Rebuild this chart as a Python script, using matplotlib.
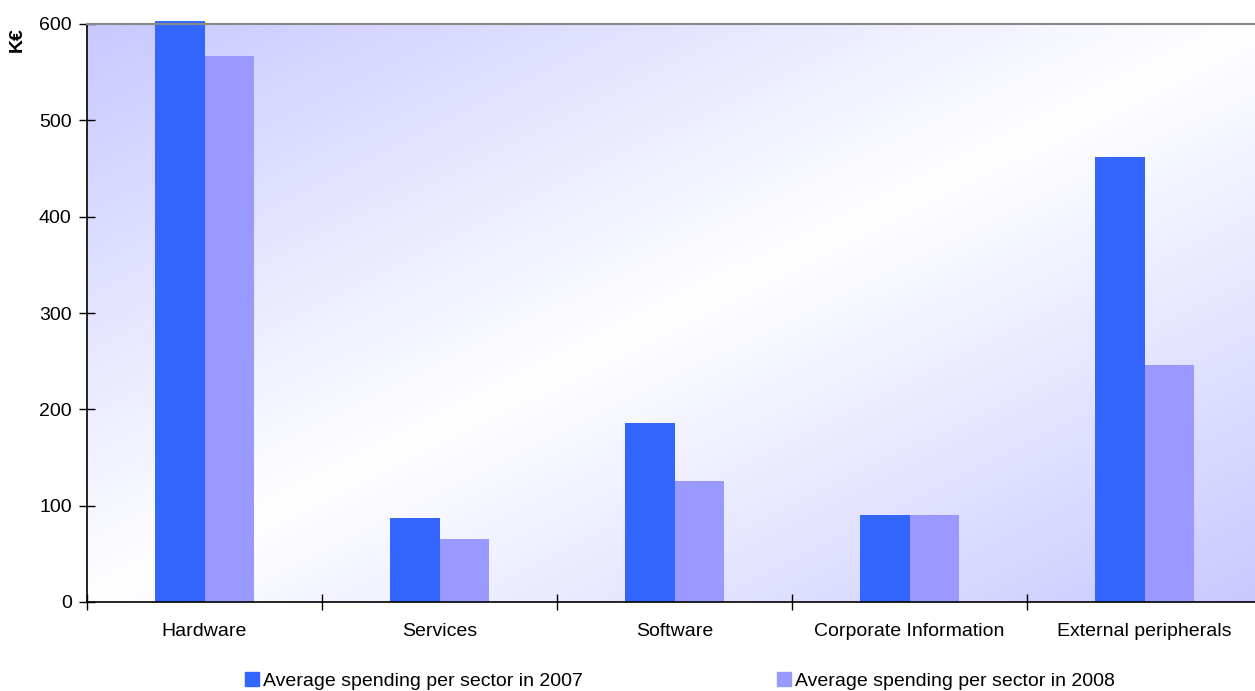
import numpy as np
import matplotlib
matplotlib.use("Agg")
import matplotlib.pyplot as plt
from matplotlib.patches import Patch

categories = ["Hardware", "Services", "Software", "Corporate Information", "External peripherals"]
spend_2007 = [603, 87, 186, 90, 462]
spend_2008 = [567, 65, 126, 90, 246]
series_labels = ["Average spending per sector in 2007", "Average spending per sector in 2008"]
yticks = [0, 100, 200, 300, 400, 500, 600]

c2007 = "#3366FF"
c2008 = "#9999FF"

plt.rcParams["font.family"] = ["Liberation Sans", "DejaVu Sans"]
fs = 14

W, H = 1255, 691
fig = plt.figure(figsize=(W / 100, H / 100), dpi=100)
# plot area runs slightly past the right edge of the canvas
ax = fig.add_axes([87 / W, 1 - 602 / H, 1175 / W, (602 - 24) / H])

# diagonal lavender-white-lavender gradient background
n = 400
u = np.linspace(0, 1, n)
U, V = np.meshgrid(u, u)  # V = 0 at top
t = (U + V) / 2
w = np.abs(t - 0.5) * 2
lav = np.array([200, 200, 255]) / 255
white = np.array([1.0, 1.0, 1.0])
img = white[None, None, :] * (1 - w[..., None]) + lav[None, None, :] * w[..., None]
ax.imshow(img, extent=[0, 1, 0, 1], transform=ax.transAxes, aspect="auto", zorder=0)

x = np.arange(len(categories))
bw = 0.21
ax.bar(x - bw / 2, spend_2007, width=bw, color=c2007, zorder=2, clip_on=False)
ax.bar(x + bw / 2, spend_2008, width=bw, color=c2008, zorder=2, clip_on=False)

ax.set_xlim(-0.5, len(categories) - 0.5)
ax.set_ylim(0, 600)

ax.set_yticks(yticks)
ax.set_yticklabels([str(v) for v in yticks], fontsize=fs)
ax.tick_params(axis="y", direction="inout", length=12, width=1, pad=5)

ax.set_xticks(x)
ax.set_xticklabels(categories, fontsize=fs)
ax.tick_params(axis="x", which="major", length=0, pad=15)
ax.set_xticks(np.arange(-0.5, len(categories) - 0.4, 1.0)[:-1], minor=True)
ax.tick_params(axis="x", which="minor", direction="inout", length=12, width=1)

for s in ["left", "bottom"]:
    ax.spines[s].set_color("black")
    ax.spines[s].set_linewidth(1.2)
ax.spines["top"].set_color("#888888")
ax.spines["top"].set_linewidth(1.5)
ax.spines["right"].set_visible(False)

fig.text(17 / W, 1 - 40 / H, "K€", rotation=90, fontsize=fs, fontweight="bold",
         ha="center", va="center")

handles = [Patch(color=c2007), Patch(color=c2008)]
fig.legend(handles, series_labels, loc="center", bbox_to_anchor=(680 / W, 1 - 681 / H),
           ncol=2, frameon=False, fontsize=fs, handlelength=0.7, handleheight=0.7,
           handletextpad=0.2, columnspacing=10.0, borderaxespad=0)

fig.savefig("out.png", dpi=100)
